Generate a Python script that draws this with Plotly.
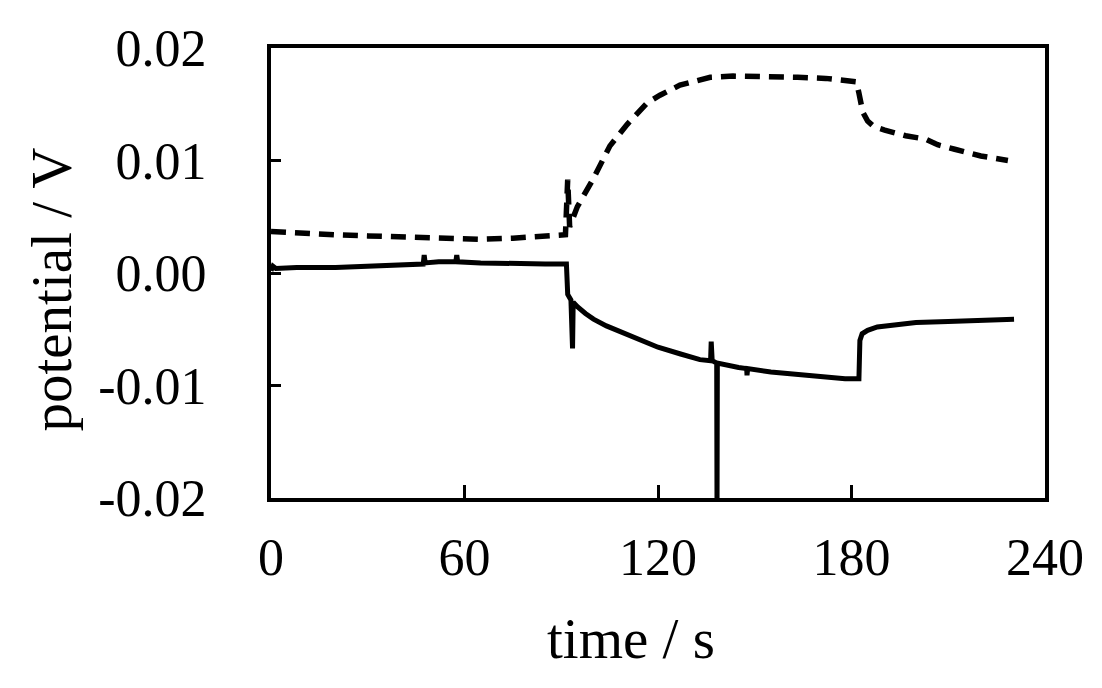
import plotly.graph_objects as go

# ---- data ----
dashed_t = [0, 5, 12, 20, 30, 40, 50, 57, 65, 75, 85, 91.3, 92.0, 92.3, 92.6, 95,
            99.8, 105.1, 110.4, 116.6, 120.6, 126.8, 133.1, 136.2, 143.3, 150.8,
            163.3, 172, 179.2, 181.5, 182.3, 183.5, 185, 187, 190.3, 196.8, 203,
            206.7, 212, 220.1, 228.5]
dashed_v = [0.0037, 0.0036, 0.0035, 0.0034, 0.0033, 0.0032, 0.0031, 0.0030, 0.0030,
            0.0031, 0.0033, 0.0034, 0.0083, 0.0069, 0.0041, 0.0059, 0.0083, 0.0113,
            0.0132, 0.0151, 0.0158, 0.0167, 0.0172, 0.0174, 0.0175, 0.0175, 0.0174,
            0.0173, 0.0171, 0.0170, 0.0160, 0.0143, 0.0135, 0.0130, 0.0127, 0.0122,
            0.0119, 0.0114, 0.0110, 0.0104, 0.0100]

solid_t = [0, 0.6, 1.5, 8, 20, 30, 40, 47.2, 47.5, 47.8, 52, 57.3, 57.6, 57.9, 65,
           75, 85, 91.6, 92.0, 93.0, 93.5, 93.7, 95, 97.5, 100, 104, 108, 114, 120,
           127, 133, 136.3, 136.5, 136.8, 138.2, 138.3, 138.4, 145, 147.5, 147.6,
           147.8, 155, 165, 172, 178, 182.3, 182.6, 183.3, 185, 188, 193, 200, 210,
           220, 230.4]
solid_v = [0.0002, 0.0006, 0.0004, 0.0005, 0.0005, 0.0006, 0.0007, 0.0008, 0.0016,
           0.0009, 0.0010, 0.0010, 0.0016, 0.0010, 0.0009, 0.0008, 0.0008, 0.0008,
           -0.0019, -0.0024, -0.0067, -0.0026, -0.0030, -0.0036, -0.0041, -0.0047,
           -0.0052, -0.0059, -0.0066, -0.0072, -0.0077, -0.0078, -0.0061, -0.0078,
           -0.0080, -0.0210, -0.0080, -0.0084, -0.0085, -0.0091, -0.0085, -0.0088,
           -0.0091, -0.0093, -0.0094, -0.0094, -0.0060, -0.0054, -0.0051, -0.0048,
           -0.0046, -0.0044, -0.0043, -0.0042, -0.0041]

x_ticks = [0, 60, 120, 180, 240]
x_labels = ["0", "60", "120", "180", "240"]
y_ticks = [-0.02, -0.01, 0.0, 0.01, 0.02]
y_labels = ["-0.02", "-0.01", "0.00", "0.01", "0.02"]

x_title = "time / s"
y_title = "potential / V"

FONT = "Liberation Serif, Times New Roman, serif"

fig = go.Figure()
fig.add_trace(go.Scatter(x=dashed_t, y=dashed_v, mode="lines",
                         line=dict(color="black", width=5.5, dash="15px,9px"),
                         showlegend=False))
fig.add_trace(go.Scatter(x=solid_t, y=solid_v, mode="lines",
                         line=dict(color="black", width=5),
                         showlegend=False))

fig.update_layout(
    width=1102, height=688,
    margin=dict(l=263, r=65, t=35, b=198),
    paper_bgcolor="white", plot_bgcolor="white",
    font=dict(family=FONT, color="black", size=52),
    annotations=[
        dict(text=x_title, xref="paper", yref="paper", x=0.465, y=-0.312,
             xanchor="center", yanchor="middle", showarrow=False,
             font=dict(family=FONT, size=57, color="black")),
        dict(text=y_title, xref="paper", yref="paper", x=-0.284, y=0.4637,
             xanchor="center", yanchor="middle", showarrow=False, textangle=-90,
             font=dict(family=FONT, size=57, color="black")),
    ],
)
fig.update_xaxes(range=[0, 240], tickvals=x_ticks, ticktext=x_labels,
                 showgrid=False, zeroline=False,
                 showline=True, linecolor="black", linewidth=4, mirror=True,
                 ticks="inside", ticklen=13, tickwidth=3, tickcolor="black",
                 ticklabelstandoff=11,
                 tickfont=dict(family=FONT, size=52, color="black"))
fig.update_yaxes(range=[-0.02, 0.02], tickvals=y_ticks, ticktext=y_labels,
                 showgrid=False, zeroline=False,
                 showline=True, linecolor="black", linewidth=4, mirror=True,
                 ticks="inside", ticklen=10, tickwidth=3, tickcolor="black",
                 ticklabelstandoff=50,
                 tickfont=dict(family=FONT, size=52, color="black"))

fig.write_html("out.html")
